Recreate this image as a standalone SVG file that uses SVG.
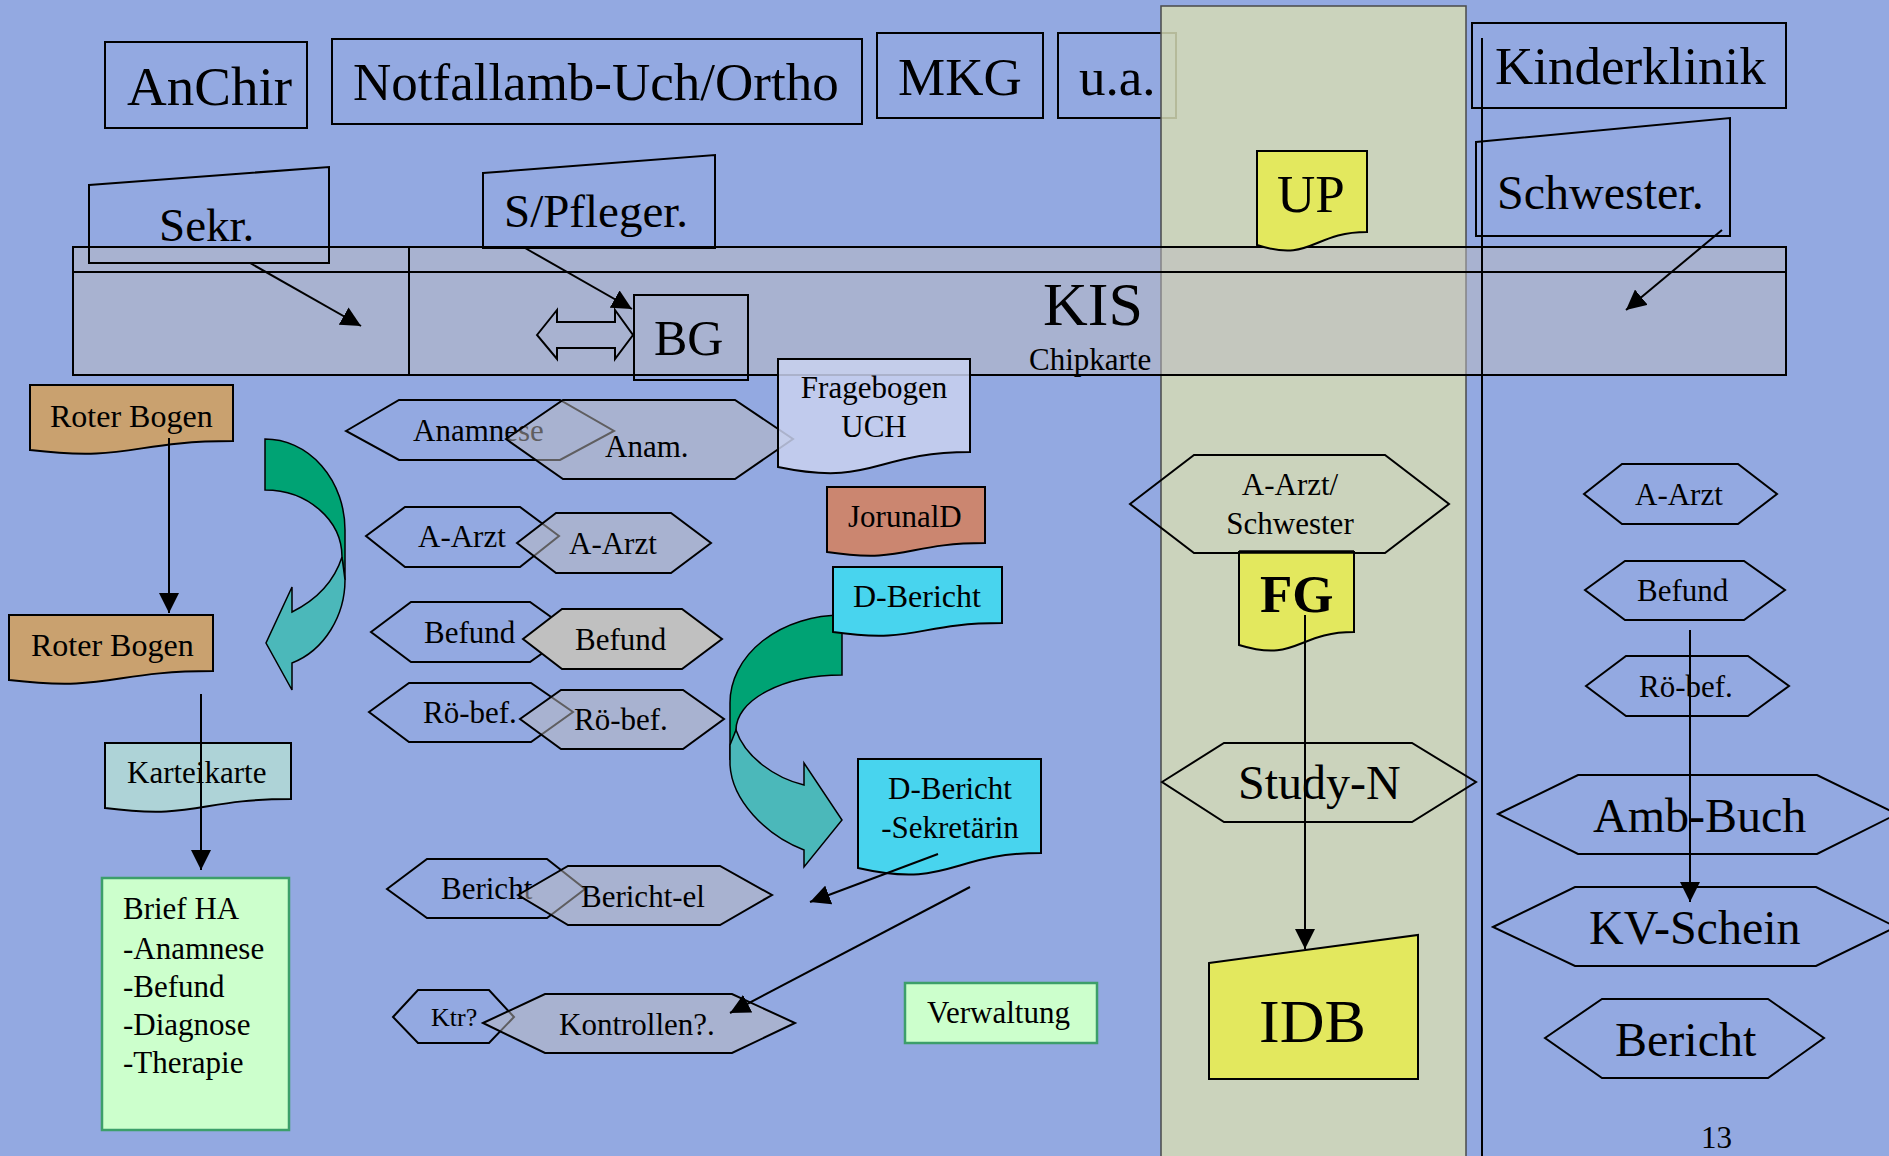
<svg xmlns="http://www.w3.org/2000/svg" width="1889" height="1156" viewBox="0 0 1889 1156">
  <defs>
    <marker id="head" markerUnits="userSpaceOnUse" markerWidth="20" markerHeight="20" refX="20" refY="10" orient="auto">
      <path d="M0,0 L20,10 L0,20 Z" fill="#000"/>
    </marker>
    <style>
      text { font-family: "Liberation Serif", "Times New Roman", serif; fill: #000; }
      .box { fill: none; stroke: #000; stroke-width: 2; }
      .hex { fill: none; stroke: #000; stroke-width: 2; }
      .semi { fill: #BEBCC0; fill-opacity: 0.5; stroke: #000; stroke-width: 2; }
      .solid { fill: #C0C0C0; stroke: #000; stroke-width: 2; }
      .yellow { fill: #E3E85E; stroke: #000; stroke-width: 2; }
      .note { fill: #CCFFCC; stroke: #3C9F6A; stroke-width: 2.5; }
      .wire { stroke: #000; stroke-width: 2; fill: none; }
      .s31 { font-size: 31px; }
      .s48 { font-size: 48px; }
      .s53 { font-size: 53px; }
    </style>
  </defs>

  <!-- background -->
  <rect x="0" y="0" width="1889" height="1156" fill="#93A9E1"/>

  <!-- top row of department boxes -->
  <g id="anchir">
    <rect class="box" x="105" y="42" width="202" height="86"/>
    <text x="127" y="105" style="font-size:55px">AnChir</text>
  </g>
  <g id="notfallamb">
    <rect class="box" x="332" y="39" width="530" height="85"/>
    <text class="s53" x="353" y="100">Notfallamb-Uch/Ortho</text>
  </g>
  <g id="mkg">
    <rect class="box" x="877" y="33" width="166" height="85"/>
    <text class="s53" x="898" y="95">MKG</text>
  </g>
  <g id="ua">
    <rect class="box" x="1058" y="33" width="118" height="85"/>
    <text class="s53" x="1079" y="95">u.a.</text>
  </g>

  <!-- study column -->
  <g id="study-column">
    <rect x="1161" y="6" width="305" height="1160" fill="#D5DAB5" fill-opacity="0.85" stroke="#4A4A4A" stroke-width="1.5"/>
  </g>

  <!-- KIS band -->
  <g id="kis">
    <rect x="73" y="247" width="1713" height="128" fill="#BEBCC0" fill-opacity="0.5" stroke="#000" stroke-width="2"/>
    <line x1="73" y1="272" x2="1786" y2="272" stroke="#000" stroke-width="2"/>
    <line x1="409" y1="247" x2="409" y2="375" stroke="#000" stroke-width="2"/>
    <text x="1043" y="325" style="font-size:62px">KIS</text>
    <text class="s31" x="1029" y="370">Chipkarte</text>
  </g>

  <g id="kinderklinik">
    <rect class="box" x="1472" y="23" width="314" height="85"/>
    <text class="s53" x="1495" y="84">Kinderklinik</text>
  </g>

  <g id="sekr">
    <polygon class="box" points="89,185 329,167 329,263 89,263"/>
    <text x="159" y="241" style="font-size:47px">Sekr.</text>
  </g>
  <g id="spfleger">
    <polygon class="box" points="483,173 715,155 715,248 483,248"/>
    <text x="504" y="227" style="font-size:47px">S/Pfleger.</text>
  </g>
  <g id="schwester">
    <polygon class="box" points="1476,142 1730,118 1730,236 1476,236"/>
    <text class="s48" x="1497" y="209">Schwester.</text>
  </g>
  <g id="up">
    <path class="yellow" d="M1257,151 H1367 V232 C1312,232 1312,263 1257,245 Z"/>
    <text class="s53" x="1277" y="212">UP</text>
  </g>

  <g id="bg">
    <rect class="box" x="634" y="295" width="114" height="85"/>
    <text x="654" y="355" style="font-size:50px">BG</text>
    <path class="box" d="M537,335 L557,310 L557,322 L615,322 L615,310 L633,335 L615,359 L615,348 L557,348 L557,359 Z"/>
  </g>

  <!-- left column: paper flow -->
  <g id="roter-bogen-1">
    <path d="M30,385 H233 V441 C131,441 131,462 30,450 Z" fill="#C9A16F" stroke="#000" stroke-width="2"/>
    <text x="50" y="427" style="font-size:32px">Roter Bogen</text>
  </g>
  <g id="roter-bogen-2">
    <path d="M9,615 H213 V671 C111,671 111,692 9,680 Z" fill="#C9A16F" stroke="#000" stroke-width="2"/>
    <text x="31" y="656" style="font-size:32px">Roter Bogen</text>
  </g>
  <g id="karteikarte">
    <path d="M105,743 H291 V799 C198,799 198,820 105,808 Z" fill="#AED3D7" stroke="#000" stroke-width="2"/>
    <text class="s31" x="127" y="783">Karteikarte</text>
  </g>
  <g id="brief-ha">
    <rect class="note" x="102" y="878" width="187" height="252"/>
    <text class="s31" x="123" y="919">Brief HA</text>
    <text class="s31" x="123" y="959">-Anamnese</text>
    <text class="s31" x="123" y="997">-Befund</text>
    <text class="s31" x="123" y="1035">-Diagnose</text>
    <text class="s31" x="123" y="1073">-Therapie</text>
  </g>

  <!-- curved turn arrows -->
  <g id="turn-left" stroke="#000" stroke-width="1.5">
    <path d="M265,439 A80,91 0 0 1 345,530 L345,580 L342,557 A77,67 0 0 0 265,490 Z" fill="#00A374"/>
    <path d="M342,557 L345,580 C345,615 325,650 292,663 L292,690 L266,643 L292,587 L292,612 C312,602 333,585 342,557 Z" fill="#4BB8BA"/>
  </g>
  <g id="turn-right" stroke="#000" stroke-width="1.5">
    <path d="M842,615 A112,88 0 0 0 730,703 L730,760 L736,730 A106,55 0 0 1 842,675 Z" fill="#00A374"/>
    <path d="M736,730 L730,745 L730,765 C732,800 765,835 804,850 L804,867 L842,820 L804,763 L804,785 C775,778 745,757 736,730 Z" fill="#4BB8BA"/>
  </g>

  <!-- paired hexagons: paper vs. electronic -->
  <g id="anamnese">
    <polygon class="hex" points="346,431 399,400 560,400 614,431 560,460 399,460"/>
    <text class="s31" x="413" y="441">Anamnese</text>
  </g>
  <g id="anam">
    <polygon class="semi" points="506,439 563,400 735,400 793,439 735,479 563,479"/>
    <text class="s31" x="605" y="457">Anam.</text>
  </g>
  <g id="a-arzt-l">
    <polygon class="hex" points="366,536 405,507 520,507 559,536 520,567 405,567"/>
    <text class="s31" x="418" y="547">A-Arzt</text>
  </g>
  <g id="a-arzt-r">
    <polygon class="semi" points="517,543 556,513 671,513 711,543 671,573 556,573"/>
    <text class="s31" x="569" y="554">A-Arzt</text>
  </g>
  <g id="befund-l">
    <polygon class="hex" points="371,632 411,602 530,602 572,632 530,662 411,662"/>
    <text class="s31" x="424" y="643">Befund</text>
  </g>
  <g id="befund-r">
    <polygon class="solid" points="523,639 562,609 682,609 722,639 682,669 562,669"/>
    <text class="s31" x="575" y="650">Befund</text>
  </g>
  <g id="roebef-l">
    <polygon class="hex" points="369,712 409,683 531,683 573,712 531,742 409,742"/>
    <text class="s31" x="423" y="723">Rö-bef.</text>
  </g>
  <g id="roebef-r">
    <polygon class="semi" points="520,719 561,690 683,690 724,719 683,749 561,749"/>
    <text class="s31" x="574" y="730">Rö-bef.</text>
  </g>
  <g id="bericht-l">
    <polygon class="hex" points="387,889 427,859 547,859 585,889 547,918 427,918"/>
    <text class="s31" x="441" y="899">Bericht</text>
  </g>
  <g id="bericht-el">
    <polygon class="semi" points="518,895 568,866 720,866 772,895 720,925 568,925"/>
    <text class="s31" x="581" y="907">Bericht-el</text>
  </g>
  <g id="ktr">
    <polygon class="hex" points="393,1017 418,990 489,990 514,1017 489,1043 418,1043"/>
    <text x="431" y="1026" style="font-size:26px">Ktr?</text>
  </g>
  <g id="kontrollen">
    <polygon class="semi" points="483,1023 545,994 732,994 795,1023 732,1053 545,1053"/>
    <text class="s31" x="559" y="1035">Kontrollen?.</text>
  </g>

  <!-- documents in the middle -->
  <g id="fragebogen">
    <path d="M778,359 H970 V452 C874,452 874,487 778,467 Z" fill="#C9D1EF" fill-opacity="0.85" stroke="#000" stroke-width="2"/>
    <text class="s31" x="874" y="398" text-anchor="middle">Fragebogen</text>
    <text class="s31" x="874" y="437" text-anchor="middle">UCH</text>
  </g>
  <g id="journald">
    <path d="M827,487 H985 V543 C906,543 906,564 827,552 Z" fill="#CB8670" stroke="#000" stroke-width="2"/>
    <text class="s31" x="848" y="527">JorunalD</text>
  </g>
  <g id="d-bericht">
    <path d="M833,567 H1002 V623 C917,623 917,644 833,632 Z" fill="#48D4EE" stroke="#000" stroke-width="2"/>
    <text x="853" y="607" style="font-size:32px">D-Bericht</text>
  </g>
  <g id="d-bericht-sek">
    <path d="M858,759 H1041 V853 C950,853 950,889 858,868 Z" fill="#48D4EE" stroke="#000" stroke-width="2"/>
    <text class="s31" x="950" y="799" text-anchor="middle">D-Bericht</text>
    <text class="s31" x="950" y="838" text-anchor="middle">-Sekretärin</text>
  </g>
  <g id="verwaltung">
    <rect class="note" x="905" y="983" width="192" height="60"/>
    <text class="s31" x="927" y="1023">Verwaltung</text>
  </g>

  <!-- study column content -->
  <g id="a-arzt-schwester">
    <polygon class="hex" points="1130,504 1194,455 1385,455 1449,504 1385,553 1194,553"/>
    <text class="s31" x="1290" y="495" text-anchor="middle">A-Arzt/</text>
    <text class="s31" x="1290" y="534" text-anchor="middle">Schwester</text>
  </g>
  <g id="fg">
    <path class="yellow" d="M1239,552 H1354 V632 C1297,632 1297,663 1239,645 Z"/>
    <line x1="1239" y1="552" x2="1354" y2="552" stroke="#000" stroke-width="3.5"/>
    <text x="1260" y="612" style="font-size:53px;font-weight:bold">FG</text>
  </g>
  <g id="study-n">
    <polygon class="hex" points="1162,782 1224,743 1412,743 1476,782 1412,822 1224,822"/>
    <text class="s48" x="1238" y="799">Study-N</text>
  </g>
  <g id="idb">
    <polygon class="yellow" points="1209,963 1418,935 1418,1079 1209,1079"/>
    <text x="1259" y="1042" style="font-size:62px">IDB</text>
  </g>

  <!-- right column (Kinderklinik) -->
  <g id="a-arzt-kk">
    <polygon class="hex" points="1584,494 1622,464 1738,464 1777,494 1738,524 1622,524"/>
    <text class="s31" x="1635" y="505">A-Arzt</text>
  </g>
  <g id="befund-kk">
    <polygon class="hex" points="1585,590 1625,561 1744,561 1785,590 1744,620 1625,620"/>
    <text class="s31" x="1637" y="601">Befund</text>
  </g>
  <g id="roebef-kk">
    <polygon class="hex" points="1586,686 1626,656 1748,656 1789,686 1748,716 1626,716"/>
    <text class="s31" x="1639" y="697">Rö-bef.</text>
  </g>
  <g id="amb-buch">
    <polygon class="hex" points="1498,814 1578,775 1817,775 1897,814 1817,854 1578,854"/>
    <text class="s48" x="1593" y="832">Amb-Buch</text>
  </g>
  <g id="kv-schein">
    <polygon class="hex" points="1493,927 1575,887 1816,887 1896,927 1816,966 1575,966"/>
    <text class="s48" x="1589" y="944">KV-Schein</text>
  </g>
  <g id="bericht-kk">
    <polygon class="hex" points="1545,1038 1602,999 1768,999 1824,1038 1768,1078 1602,1078"/>
    <text class="s48" x="1615" y="1056">Bericht</text>
  </g>

  <!-- connectors -->
  <g id="connectors" class="wire">
    <line x1="1482" y1="38" x2="1482" y2="1156" stroke-width="2"/>
    <line x1="250" y1="263" x2="361" y2="326" marker-end="url(#head)"/>
    <line x1="525" y1="248" x2="632" y2="309" marker-end="url(#head)"/>
    <line x1="1722" y1="230" x2="1626" y2="310" marker-end="url(#head)"/>
    <line x1="169" y1="438" x2="169" y2="613" marker-end="url(#head)"/>
    <line x1="201" y1="694" x2="201" y2="870" marker-end="url(#head)"/>
    <line x1="1305" y1="615" x2="1305" y2="949" marker-end="url(#head)"/>
    <line x1="1690" y1="630" x2="1690" y2="902" marker-end="url(#head)"/>
    <line x1="938" y1="854" x2="810" y2="902" marker-end="url(#head)"/>
    <line x1="970" y1="887" x2="730" y2="1013" marker-end="url(#head)"/>
  </g>

  <!-- page number -->
  <text class="s31" x="1701" y="1148">13</text>
</svg>
